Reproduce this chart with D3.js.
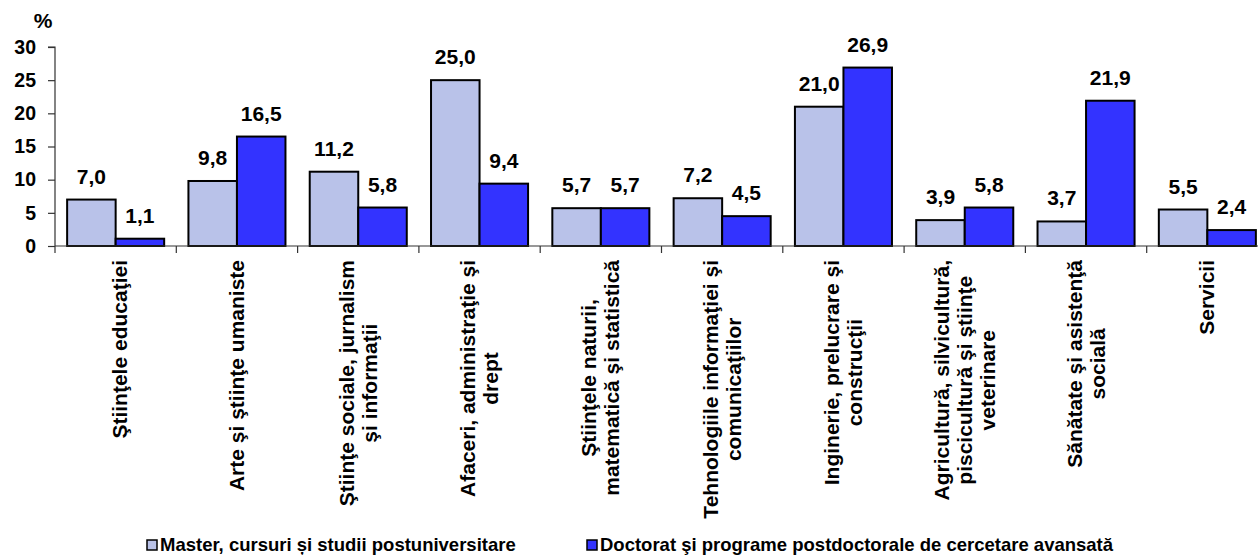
<!DOCTYPE html>
<html><head><meta charset="utf-8">
<script src="https://cdn.jsdelivr.net/npm/d3@7"></script>
<style>
body{margin:0;background:#fff;}
svg{display:block;font-family:"Liberation Sans",Arial,sans-serif;font-weight:bold;}
</style></head>
<body><svg id="chart" width="1258" height="556"></svg>
<script>
const categories = [
  ["Ştiinţele educaţiei"],
  ["Arte şi ştiinţe umaniste"],
  ["Ştiinţe sociale, jurnalism", "şi informaţii"],
  ["Afaceri, administraţie şi", "drept"],
  ["Ştiinţele naturii,", "matematică şi statistică"],
  ["Tehnologiile informaţiei şi", "comunicaţiilor"],
  ["Inginerie, prelucrare şi", "construcţii"],
  ["Agricultură, silvicultură,", "piscicultură şi ştiinţe", "veterinare"],
  ["Sănătate şi asistenţă", "socială"],
  ["Servicii"]
];
const seriesNames = ["Master, cursuri și studii postuniversitare", "Doctorat şi programe postdoctorale de cercetare avansată"];
const master   = [7.0, 9.8, 11.2, 25.0, 5.7, 7.2, 21.0, 3.9, 3.7, 5.5];
const doctorat = [1.1, 16.5, 5.8, 9.4, 5.7, 4.5, 26.9, 5.8, 21.9, 2.4];
const yTicks = [0, 5, 10, 15, 20, 25, 30];
const colors = ["#B9C2E9", "#3333FF"];

const svg = d3.select("#chart");
const keys = categories.map((c, i) => "c" + i);
const x0 = d3.scaleBand().domain(keys).range([55, 1268]).paddingInner(0.2).paddingOuter(0.1);
const x1 = d3.scaleBand().domain([0, 1]).range([0, x0.bandwidth()]);
const y = d3.scaleLinear().domain([0, 30]).range([246, 47]);
const fmt = v => d3.format(".1f")(v).replace(".", ",");

// y axis
const yAxis = svg.append("g").attr("transform", "translate(55,0)")
  .call(d3.axisLeft(y).tickValues(yTicks).tickSize(7).tickPadding(12).tickFormat(d => d));
yAxis.select(".domain").attr("stroke", "#333").attr("stroke-width", 1.2).attr("d", `M-7,${y(30)}H0V${y(0)}`);
yAxis.selectAll(".tick line").attr("stroke", "#333").attr("stroke-width", 1.2);
yAxis.selectAll(".tick text").attr("font-size", 19.5).attr("font-weight", "bold").attr("fill", "#000")
  .attr("font-family", "'Liberation Sans',Arial,sans-serif");

svg.append("text").attr("x", 43).attr("y", 28).attr("text-anchor", "middle")
  .attr("font-size", 21).text("%");

// bars
const data = [master, doctorat];
const groups = svg.append("g").selectAll("g").data(keys).join("g")
  .attr("transform", d => `translate(${x0(d)},0)`);
groups.each(function(k, i) {
  const g = d3.select(this);
  [0, 1].forEach(s => {
    const v = data[s][i];
    g.append("rect").attr("x", x1(s)).attr("y", y(v)).attr("width", x1.bandwidth())
      .attr("height", y(0) - y(v)).attr("fill", colors[s]).attr("stroke", "#000").attr("stroke-width", 2);
    g.append("text").attr("x", x1(s) + x1.bandwidth() / 2).attr("y", y(v) - 16)
      .attr("text-anchor", "middle").attr("font-size", 21).text(fmt(v));
  });
});

// x axis
const step = x0.step();
const x0start = x0.range()[0];
svg.append("line").attr("x1", 55).attr("x2", 1258).attr("y1", y(0)).attr("y2", y(0))
  .attr("stroke", "#333").attr("stroke-width", 1.2);
svg.append("g").selectAll("line").data(d3.range(keys.length + 1)).join("line")
  .attr("x1", i => x0start + i * step).attr("x2", i => x0start + i * step)
  .attr("y1", y(0)).attr("y2", y(0) + 7).attr("stroke", "#333").attr("stroke-width", 1.2);

// category labels
const lh = 23;
categories.forEach((lines, i) => {
  const cx = x0(keys[i]) + x0.bandwidth() / 2 + (i === 0 ? 4 : 0);
  const g = svg.append("g").attr("transform", `translate(${cx},260) rotate(-90)`);
  const n = lines.length;
  const ts = lines.map((t, j) => g.append("text").attr("text-anchor", "middle").attr("font-size", 21)
    .attr("y", (j - (n - 1) / 2) * lh + 7).text(t));
  const maxW = d3.max(ts, t => t.node().getComputedTextLength());
  ts.forEach(t => t.attr("x", -maxW / 2));
});

// legend
const legendX = [147, 587];
seriesNames.forEach((name, s) => {
  svg.append("rect").attr("x", legendX[s]).attr("y", 540).attr("width", 10).attr("height", 10)
    .attr("fill", colors[s]).attr("stroke", "#000").attr("stroke-width", 1.5);
  svg.append("text").attr("x", legendX[s] + 13).attr("y", 551).attr("font-size", 18.5).text(name);
});
</script></body></html>
